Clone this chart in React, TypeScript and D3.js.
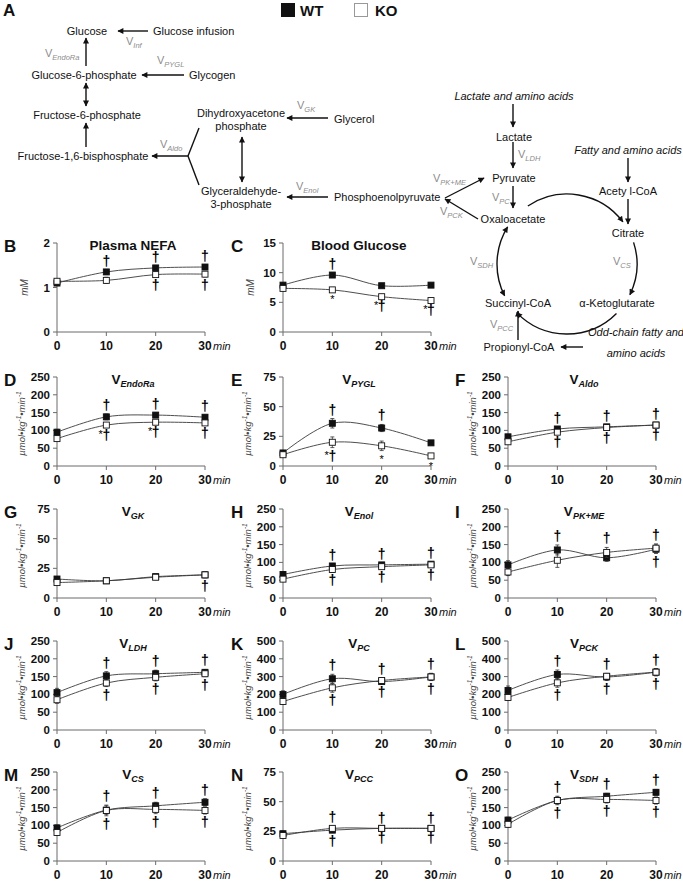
import React from 'react';
import * as d3 from 'd3';

const FONT = '"Liberation Sans", Arial, Helvetica, sans-serif';

// ---- time axis ----
const timePoints = [0, 10, 20, 30];
const xTickLabels = ['0', '10', '20', '30'];

// ---- B: Plasma NEFA (mM) ----
const nefaWT = [1.1, 1.35, 1.44, 1.46];
const nefaKO = [1.14, 1.16, 1.29, 1.3];
const nefaWTErr = [0.03, 0.05, 0.04, 0.04];
const nefaKOErr = [0.04, 0.07, 0.05, 0.06];
const nefaAbove = ['', '†', '†', '†'];
const nefaBelow = ['', '', '†', '†'];

// ---- C: Blood Glucose (mM) ----
const gluWT = [7.9, 9.6, 7.8, 7.9];
const gluKO = [7.35, 7.1, 5.95, 5.3];
const gluWTErr = [0.25, 0.3, 0.2, 0.2];
const gluKOErr = [0.25, 0.2, 0.2, 0.2];
const gluAbove = ['', '†', '', ''];
const gluBelow = ['', '*', '*†', '*†'];

// ---- D: V EndoRa ----
const endoWT = [95, 138, 143, 137];
const endoKO = [77, 115, 123, 121];
const endoWTErr = [8, 8, 6, 6];
const endoKOErr = [6, 6, 6, 6];
const endoAbove = ['', '†', '†', '†'];
const endoBelow = ['', '*†', '*†', '†'];

// ---- E: V PYGL ----
const pyglWT = [11, 36, 32, 19.5];
const pyglKO = [9.5, 20, 17, 8.5];
const pyglWTErr = [1.5, 4, 3, 1.5];
const pyglKOErr = [1.5, 4.5, 4, 1.5];
const pyglAbove = ['', '†', '†', ''];
const pyglBelow = ['', '*†', '*', '*'];

// ---- F: V Aldo ----
const aldoWT = [82, 104, 110, 115];
const aldoKO = [68, 95, 108, 115];
const aldoWTErr = [6, 6, 5, 6];
const aldoKOErr = [6, 6, 6, 6];
const aldoAbove = ['', '†', '†', '†'];
const aldoBelow = ['', '†', '†', '†'];

// ---- G: V GK ----
const gkWT = [16, 14.5, 18, 19.5];
const gkKO = [13, 14.5, 17.5, 19.5];
const gkWTErr = [2, 1.5, 2, 2.5];
const gkKOErr = [2, 1.5, 2, 2];
const gkAbove = ['', '', '', ''];
const gkBelow = ['', '', '', '†'];

// ---- H: V Enol ----
const enolWT = [66, 90, 93, 95];
const enolKO = [53, 80, 88, 93];
const enolWTErr = [8, 6, 6, 6];
const enolKOErr = [6, 8, 6, 6];
const enolAbove = ['', '†', '†', '†'];
const enolBelow = ['', '†', '†', '†'];

// ---- I: V PK+ME ----
const pkWT = [93, 135, 113, 137];
const pkKO = [73, 106, 128, 140];
const pkWTErr = [12, 14, 10, 12];
const pkKOErr = [10, 20, 14, 12];
const pkAbove = ['', '†', '†', '†'];
const pkBelow = ['', '', '', '†'];

// ---- J: V LDH ----
const ldhWT = [105, 152, 158, 162];
const ldhKO = [85, 132, 148, 158];
const ldhWTErr = [12, 12, 10, 8];
const ldhKOErr = [10, 10, 10, 8];
const ldhAbove = ['', '†', '†', '†'];
const ldhBelow = ['', '†', '†', '†'];

// ---- K: V PC ----
const pcWT = [200, 288, 272, 298];
const pcKO = [160, 237, 278, 298];
const pcWTErr = [20, 25, 15, 20];
const pcKOErr = [15, 25, 15, 20];
const pcAbove = ['', '†', '†', '†'];
const pcBelow = ['', '†', '†', '†'];

// ---- L: V PCK ----
const pckWT = [222, 312, 298, 325];
const pckKO = [183, 265, 302, 325];
const pckWTErr = [25, 25, 20, 20];
const pckKOErr = [15, 25, 15, 20];
const pckAbove = ['', '†', '†', '†'];
const pckBelow = ['', '†', '†', '†'];

// ---- M: V CS ----
const csWT = [93, 143, 155, 165];
const csKO = [80, 142, 145, 142];
const csWTErr = [8, 12, 10, 10];
const csKOErr = [8, 15, 12, 10];
const csAbove = ['', '†', '†', '†'];
const csBelow = ['', '†', '†', '†'];

// ---- N: V PCC ----
const pccWT = [23, 26, 27.5, 27.5];
const pccKO = [21.5, 27.5, 27.5, 27.5];
const pccWTErr = [2, 2, 1.5, 1.5];
const pccKOErr = [2, 2, 1.5, 1.5];
const pccAbove = ['', '†', '†', '†'];
const pccBelow = ['', '†', '†', '†'];

// ---- O: V SDH ----
const sdhWT = [115, 170, 182, 193];
const sdhKO = [103, 170, 173, 170];
const sdhWTErr = [8, 10, 8, 8];
const sdhKOErr = [8, 12, 10, 10];
const sdhAbove = ['', '†', '†', '†'];
const sdhBelow = ['', '†', '†', '†'];

type PanelCfg = {
  letter: string; title: string; sub: string; yMax: number; step: number; unit: string;
  wt: number[]; ko: number[]; wtErr: number[]; koErr: number[]; above: string[]; below: string[];
  row: number; col: number;
};

const panels: PanelCfg[] = [
  { letter: 'B', title: 'Plasma NEFA', sub: '', yMax: 2, step: 1, unit: 'mM', wt: nefaWT, ko: nefaKO, wtErr: nefaWTErr, koErr: nefaKOErr, above: nefaAbove, below: nefaBelow, row: 0, col: 0 },
  { letter: 'C', title: 'Blood Glucose', sub: '', yMax: 15, step: 5, unit: 'mM', wt: gluWT, ko: gluKO, wtErr: gluWTErr, koErr: gluKOErr, above: gluAbove, below: gluBelow, row: 0, col: 1 },
  { letter: 'D', title: 'V', sub: 'EndoRa', yMax: 250, step: 50, unit: 'flux', wt: endoWT, ko: endoKO, wtErr: endoWTErr, koErr: endoKOErr, above: endoAbove, below: endoBelow, row: 1, col: 0 },
  { letter: 'E', title: 'V', sub: 'PYGL', yMax: 75, step: 25, unit: 'flux', wt: pyglWT, ko: pyglKO, wtErr: pyglWTErr, koErr: pyglKOErr, above: pyglAbove, below: pyglBelow, row: 1, col: 1 },
  { letter: 'F', title: 'V', sub: 'Aldo', yMax: 250, step: 50, unit: 'flux', wt: aldoWT, ko: aldoKO, wtErr: aldoWTErr, koErr: aldoKOErr, above: aldoAbove, below: aldoBelow, row: 1, col: 2 },
  { letter: 'G', title: 'V', sub: 'GK', yMax: 75, step: 25, unit: 'flux', wt: gkWT, ko: gkKO, wtErr: gkWTErr, koErr: gkKOErr, above: gkAbove, below: gkBelow, row: 2, col: 0 },
  { letter: 'H', title: 'V', sub: 'Enol', yMax: 250, step: 50, unit: 'flux', wt: enolWT, ko: enolKO, wtErr: enolWTErr, koErr: enolKOErr, above: enolAbove, below: enolBelow, row: 2, col: 1 },
  { letter: 'I', title: 'V', sub: 'PK+ME', yMax: 250, step: 50, unit: 'flux', wt: pkWT, ko: pkKO, wtErr: pkWTErr, koErr: pkKOErr, above: pkAbove, below: pkBelow, row: 2, col: 2 },
  { letter: 'J', title: 'V', sub: 'LDH', yMax: 250, step: 50, unit: 'flux', wt: ldhWT, ko: ldhKO, wtErr: ldhWTErr, koErr: ldhKOErr, above: ldhAbove, below: ldhBelow, row: 3, col: 0 },
  { letter: 'K', title: 'V', sub: 'PC', yMax: 500, step: 100, unit: 'flux', wt: pcWT, ko: pcKO, wtErr: pcWTErr, koErr: pcKOErr, above: pcAbove, below: pcBelow, row: 3, col: 1 },
  { letter: 'L', title: 'V', sub: 'PCK', yMax: 500, step: 100, unit: 'flux', wt: pckWT, ko: pckKO, wtErr: pckWTErr, koErr: pckKOErr, above: pckAbove, below: pckBelow, row: 3, col: 2 },
  { letter: 'M', title: 'V', sub: 'CS', yMax: 250, step: 50, unit: 'flux', wt: csWT, ko: csKO, wtErr: csWTErr, koErr: csKOErr, above: csAbove, below: csBelow, row: 4, col: 0 },
  { letter: 'N', title: 'V', sub: 'PCC', yMax: 75, step: 25, unit: 'flux', wt: pccWT, ko: pccKO, wtErr: pccWTErr, koErr: pccKOErr, above: pccAbove, below: pccBelow, row: 4, col: 1 },
  { letter: 'O', title: 'V', sub: 'SDH', yMax: 250, step: 50, unit: 'flux', wt: sdhWT, ko: sdhKO, wtErr: sdhWTErr, koErr: sdhKOErr, above: sdhAbove, below: sdhBelow, row: 4, col: 2 },
];

// ---- layout ----
const COL_X = [57, 283, 508];
const LETTER_X = [4, 231, 455];
const ROW_TOP = [243, 377, 509, 641, 772];
const PLOT_W = 148;
const PLOT_H = 89;
const AXIS_COLOR = '#6b6b6b';
const LINE_COLOR = '#3a3a3a';

function Annotation({ text, x, y, pos }: { text: string; x: number; y: number; pos: 'above' | 'below' }) {
  if (!text) return null;
  const hasDagger = text.includes('†');
  const hasStar = text.includes('*');
  if (hasDagger) {
    const base = pos === 'above' ? y - 4 : y + 13;
    return (
      <g>
        <text x={x} y={base} textAnchor="middle" fontFamily={FONT} fontWeight="bold" fontSize={14} fill="#000">†</text>
        {hasStar && (
          <text x={x - 3.5} y={base - 2} textAnchor="end" fontFamily={FONT} fontSize={11} fill="#000">*</text>
        )}
      </g>
    );
  }
  const base = pos === 'above' ? y - 2 : y + 12;
  return <text x={x} y={base} textAnchor="middle" fontFamily={FONT} fontSize={11} fill="#000">*</text>;
}

function Panel({ cfg }: { cfg: PanelCfg }) {
  const x0 = COL_X[cfg.col];
  const top = ROW_TOP[cfg.row];
  const zero = top + PLOT_H;
  const x = d3.scaleLinear().domain([0, 30]).range([x0, x0 + PLOT_W]);
  const y = d3.scaleLinear().domain([0, cfg.yMax]).range([zero, top]);
  const yTicks = d3.range(0, cfg.yMax + cfg.step / 2, cfg.step);
  const line = d3
    .line<number>()
    .x((_, i) => x(timePoints[i]))
    .y((d) => y(d))
    .curve(d3.curveCatmullRom.alpha(0.5));

  const series = [
    { vals: cfg.wt, err: cfg.wtErr, fill: '#111' },
    { vals: cfg.ko, err: cfg.koErr, fill: '#fff' },
  ];
  const midY = (top + zero) / 2;
  const ms = 6;

  return (
    <g>
      {/* panel letter */}
      <text x={LETTER_X[cfg.col]} y={top + 9} fontFamily={FONT} fontWeight="bold" fontSize={17} fill="#111">{cfg.letter}</text>
      {/* title */}
      <text x={x0 + 76} y={top + 7} textAnchor="middle" fontFamily={FONT} fontWeight="bold" fontSize={13.5} fill="#111">
        {cfg.title}
        {cfg.sub && (
          <tspan fontSize={9} fontStyle="italic" dy={3}>{cfg.sub}</tspan>
        )}
      </text>
      {/* y axis label */}
      {cfg.unit === 'mM' ? (
        <text transform={`translate(${x0 - 29},${midY}) rotate(-90)`} textAnchor="middle" fontFamily={FONT} fontStyle="italic" fontSize={10} fill="#444">mM</text>
      ) : (
        <text transform={`translate(${x0 - 32},${midY + 2}) rotate(-90)`} textAnchor="middle" fontFamily={FONT} fontStyle="italic" fontSize={9.5} fill="#444">
          µmol•kg<tspan fontSize={6.5} dy={-4}>-1</tspan><tspan dy={4}>•min</tspan><tspan fontSize={6.5} dy={-4}>-1</tspan>
        </text>
      )}
      {/* y axis */}
      <line x1={x0} x2={x0} y1={top} y2={zero} stroke={AXIS_COLOR} strokeWidth={1} />
      {yTicks.map((t) => (
        <g key={`yt${t}`}>
          <line x1={x0 - 4} x2={x0} y1={y(t)} y2={y(t)} stroke={AXIS_COLOR} strokeWidth={1} />
          <text x={x0 - 7} y={y(t) + 4} textAnchor="end" fontFamily={FONT} fontWeight="bold" fontSize={11.5} fill="#111">{t}</text>
        </g>
      ))}
      {/* x axis */}
      <line x1={x0} x2={x0 + PLOT_W} y1={zero} y2={zero} stroke={AXIS_COLOR} strokeWidth={1} />
      {timePoints.map((t, i) => (
        <g key={`xt${t}`}>
          <line x1={x(t)} x2={x(t)} y1={zero} y2={zero + 4} stroke={AXIS_COLOR} strokeWidth={1} />
          <text x={x(t)} y={zero + 18} textAnchor="middle" fontFamily={FONT} fontWeight="bold" fontSize={12} fill="#111">{xTickLabels[i]}</text>
        </g>
      ))}
      <text x={x(30) + 8} y={zero + 18} fontFamily={FONT} fontStyle="italic" fontSize={11} fill="#111">min</text>
      {/* lines */}
      {series.map((s, si) => (
        <path key={`l${si}`} d={line(s.vals) || ''} fill="none" stroke={LINE_COLOR} strokeWidth={0.9} />
      ))}
      {/* error bars + markers */}
      {series.map((s, si) => (
        <g key={`m${si}`}>
          {s.vals.map((v, i) => {
            const cx = x(timePoints[i]);
            const y1 = y(v + s.err[i]);
            const y2 = y(v - s.err[i]);
            return (
              <g key={i}>
                <line x1={cx} x2={cx} y1={y1} y2={y2} stroke="#333" strokeWidth={0.8} />
                <line x1={cx - 2} x2={cx + 2} y1={y1} y2={y1} stroke="#333" strokeWidth={0.8} />
                <line x1={cx - 2} x2={cx + 2} y1={y2} y2={y2} stroke="#333" strokeWidth={0.8} />
                <rect x={cx - ms / 2} y={y(v) - ms / 2} width={ms} height={ms} fill={s.fill} stroke="#111" strokeWidth={0.9} />
              </g>
            );
          })}
        </g>
      ))}
      {/* significance marks */}
      {timePoints.map((t, i) => {
        const topY = Math.min(y(cfg.wt[i] + cfg.wtErr[i]), y(cfg.ko[i] + cfg.koErr[i]));
        const botY = Math.max(y(cfg.wt[i] - cfg.wtErr[i]), y(cfg.ko[i] - cfg.koErr[i]));
        return (
          <g key={`a${t}`}>
            <Annotation text={cfg.above[i]} x={x(t)} y={topY} pos="above" />
            <Annotation text={cfg.below[i]} x={x(t)} y={botY} pos="below" />
          </g>
        );
      })}
    </g>
  );
}

// ---- pathway diagram ----
const CX = 567;
const CY = 264;
const R = 70;
function arcPath(a0: number, a1: number) {
  const p = (a: number) => [CX + R * Math.cos((a * Math.PI) / 180), CY + R * Math.sin((a * Math.PI) / 180)];
  const [x0, y0] = p(a0);
  const [x1, y1] = p(a1);
  const large = Math.abs(a1 - a0) > 180 ? 1 : 0;
  const sweep = a1 > a0 ? 1 : 0;
  return `M${x0},${y0} A${R},${R} 0 ${large} ${sweep} ${x1},${y1}`;
}

function VLabel({ x, y, sub }: { x: number; y: number; sub: string }) {
  return (
    <text x={x} y={y} fontFamily={FONT} fontSize={11} fill="#8c8c8c">
      V<tspan fontSize={7.5} fontStyle="italic" dy={2.5}>{sub}</tspan>
    </text>
  );
}

function Lbl({ x, y, t, anchor = 'middle', italic = false }: { x: number; y: number; t: string; anchor?: string; italic?: boolean }) {
  return (
    <text x={x} y={y} textAnchor={anchor as any} fontFamily={FONT} fontSize={11} fontStyle={italic ? 'italic' : 'normal'} fill="#111">{t}</text>
  );
}

function Arr({ x1, y1, x2, y2, both = false }: { x1: number; y1: number; x2: number; y2: number; both?: boolean }) {
  return (
    <line x1={x1} y1={y1} x2={x2} y2={y2} stroke="#111" strokeWidth={1.4} markerEnd="url(#ah)" markerStart={both ? 'url(#ah)' : undefined} />
  );
}

function Diagram() {
  return (
    <g>
      <defs>
        <marker id="ah" viewBox="0 0 10 10" refX="9" refY="5" markerWidth="7" markerHeight="6" markerUnits="userSpaceOnUse" orient="auto-start-reverse">
          <path d="M0,0 L10,5 L0,10 z" fill="#111" />
        </marker>
      </defs>
      <text x={3} y={16} fontFamily={FONT} fontWeight="bold" fontSize={17} fill="#111">A</text>
      {/* legend */}
      <rect x={281} y={3} width={14} height={14} fill="#111" />
      <text x={300} y={16} fontFamily={FONT} fontWeight="bold" fontSize={15} fill="#111">WT</text>
      <rect x={354.5} y={3.5} width={13} height={13} fill="#fff" stroke="#999" strokeWidth={1} />
      <text x={375} y={16} fontFamily={FONT} fontWeight="bold" fontSize={15} fill="#111">KO</text>

      {/* left glucose pathway */}
      <Lbl x={87} y={35} t="Glucose" />
      <Lbl x={153} y={35} t="Glucose infusion" anchor="start" />
      <Arr x1={148} y1={31} x2={118} y2={31} />
      <VLabel x={126} y={45} sub="Inf" />
      <VLabel x={45} y={57} sub="EndoRa" />
      <Arr x1={86} y1={66} x2={86} y2={38} />
      <Lbl x={84} y={79} t="Glucose-6-phosphate" />
      <Lbl x={189} y={79} t="Glycogen" anchor="start" />
      <Arr x1={184} y1={75} x2={142} y2={75} />
      <VLabel x={157} y={64} sub="PYGL" />
      <Arr x1={86} y1={83} x2={86} y2={106} both />
      <Lbl x={87} y={119} t="Fructose-6-phosphate" />
      <Arr x1={86} y1={147} x2={86} y2={123} />
      <Lbl x={83} y={160} t="Fructose-1,6-bisphosphate" />
      <Arr x1={188} y1={156} x2={152} y2={156} />
      <VLabel x={160} y={148} sub="Aldo" />
      <line x1={188} y1={156} x2={199} y2={128} stroke="#111" strokeWidth={1.4} />
      <line x1={188} y1={156} x2={199} y2={185} stroke="#111" strokeWidth={1.4} />
      <Lbl x={241} y={117} t="Dihydroxyacetone" />
      <Lbl x={241} y={130} t="phosphate" />
      <Arr x1={242} y1={137} x2={242} y2={182} both />
      <VLabel x={297} y={109} sub="GK" />
      <Arr x1={328} y1={118} x2={287} y2={118} />
      <Lbl x={334} y={123} t="Glycerol" anchor="start" />
      <Lbl x={241} y={195} t="Glyceraldehyde-" />
      <Lbl x={241} y={208} t="3-phosphate" />
      <VLabel x={296} y={190} sub="Enol" />
      <Arr x1={328} y1={197} x2={287} y2={197} />
      <Lbl x={334} y={201} t="Phosphoenolpyruvate" anchor="start" />

      {/* PEP / pyruvate / OAA */}
      <Arr x1={445} y1={198} x2={484} y2={178} />
      <Arr x1={478} y1={219} x2={445} y2={199} />
      <VLabel x={433} y={182} sub="PK+ME" />
      <VLabel x={440} y={215} sub="PCK" />
      <Lbl x={514} y={100} t="Lactate and amino acids" italic />
      <Arr x1={513} y1={104} x2={513} y2={127} />
      <Lbl x={514} y={141} t="Lactate" />
      <Arr x1={513} y1={142} x2={513} y2={168} />
      <VLabel x={518} y={158} sub="LDH" />
      <Lbl x={514} y={182} t="Pyruvate" />
      <Arr x1={513} y1={186} x2={513} y2={208} />
      <VLabel x={492} y={201} sub="PC" />
      <Lbl x={513} y={223} t="Oxaloacetate" />
      <Lbl x={628} y={154} t="Fatty and amino acids" italic />
      <Arr x1={628} y1={158} x2={628} y2={182} />
      <Lbl x={628} y={195} t="Acety l-CoA" />
      <Arr x1={628} y1={199} x2={628} y2={224} />
      <Lbl x={628} y={237} t="Citrate" />
      <VLabel x={613} y={265} sub="CS" />
      <VLabel x={470} y={265} sub="SDH" />
      <Lbl x={518} y={307} t="Succinyl-CoA" />
      <Lbl x={617} y={307} t="α-Ketoglutarate" />
      <VLabel x={490} y={328} sub="PCC" />
      <Arr x1={518} y1={340} x2={518} y2={311} />
      <Lbl x={519} y={351} t="Propionyl-CoA" />
      <Arr x1={583} y1={347} x2={561} y2={347} />
      <Lbl x={636} y={336} t="Odd-chain fatty and" italic />
      <Lbl x={636} y={357} t="amino acids" italic />

      {/* TCA cycle arcs */}
      <path d={arcPath(-124, -37)} fill="none" stroke="#111" strokeWidth={1.4} markerEnd="url(#ah)" />
      <path d={arcPath(-18, 26)} fill="none" stroke="#111" strokeWidth={1.4} markerEnd="url(#ah)" />
      <path d={arcPath(45, 136)} fill="none" stroke="#111" strokeWidth={1.4} markerEnd="url(#ah)" />
      <path d={arcPath(153, 212)} fill="none" stroke="#111" strokeWidth={1.4} markerEnd="url(#ah)" markerStart="url(#ah)" />
    </g>
  );
}

export default function App() {
  return (
    <svg width={683} height={884} viewBox="0 0 683 884" style={{ display: 'block', position: 'absolute', left: 0, top: 0, background: '#fff' }}>
      <rect x={0} y={0} width={683} height={884} fill="#fff" />
      <Diagram />
      {panels.map((p) => (
        <Panel key={p.letter} cfg={p} />
      ))}
    </svg>
  );
}
